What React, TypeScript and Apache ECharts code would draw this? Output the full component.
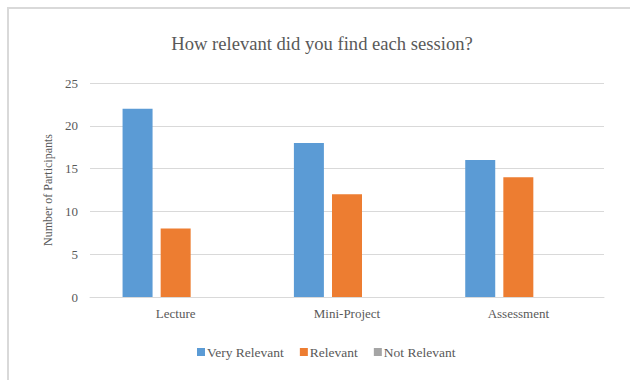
import React, { useEffect, useRef } from "react";
import * as echarts from "echarts";

const categories = ["Lecture", "Mini-Project", "Assessment"];
const seriesNames = ["Very Relevant", "Relevant", "Not Relevant"];
const veryRelevant = [22, 18, 16];
const relevant = [8, 12, 14];
const notRelevant = [0, 0, 0];
const colors = ["#5B9BD5", "#ED7D31", "#A5A5A5"];

const FONT = "Liberation Serif";

export default function App() {
  const ref = useRef<HTMLDivElement>(null);
  useEffect(() => {
    if (!ref.current) return;
    const chart = echarts.init(ref.current, undefined, { renderer: "svg" });
    const values = [veryRelevant, relevant, notRelevant];
    chart.setOption({
      animation: false,
      backgroundColor: "#ffffff",
      textStyle: { fontFamily: FONT },
      title: {
        text: "How relevant did you find each session?",
        left: 317,
        textAlign: "center",
        top: 29,
        textStyle: { fontFamily: FONT, fontSize: 18.6, fontWeight: "normal", color: "#595959" },
      },
      graphic: [
        { type: "line", shape: { x1: 7, y1: 8, x2: 630, y2: 8 }, style: { stroke: "#d9d9d9", lineWidth: 2 } },
        { type: "line", shape: { x1: 8, y1: 7, x2: 8, y2: 380 }, style: { stroke: "#d9d9d9", lineWidth: 2 } },
      ],
      legend: {
        data: seriesNames,
        bottom: 16,
        left: 192,
        itemWidth: 8,
        itemHeight: 8,
        itemGap: 16,
        icon: "rect",
        textStyle: { fontFamily: FONT, fontSize: 13.5, color: "#595959", padding: [0, 0, 0, -3] },
      },
      grid: { left: 90, right: 26, top: 83, bottom: 83 },
      xAxis: {
        type: "category",
        data: categories,
        axisTick: { show: false },
        axisLine: { lineStyle: { color: "#d9d9d9", width: 1 } },
        axisLabel: { fontFamily: FONT, fontSize: 13, color: "#595959", margin: 10 },
      },
      yAxis: {
        type: "value",
        min: 0,
        max: 25,
        interval: 5,
        name: "Number of Participants",
        nameLocation: "middle",
        nameGap: 31,
        nameTextStyle: { fontFamily: FONT, fontSize: 12, color: "#595959" },
        axisLabel: { fontFamily: FONT, fontSize: 13, color: "#595959", margin: 12 },
        splitLine: { lineStyle: { color: "#d9d9d9", width: 1 } },
      },
      series: seriesNames.map((name, i) => ({
        name,
        type: "bar",
        data: values[i],
        barWidth: 30,
        barGap: "27%",
        itemStyle: { color: colors[i] },
      })),
    });
    return () => chart.dispose();
  }, []);
  return (
    <div
      ref={ref}
      style={{ position: "absolute", left: 0, top: 0, width: 630, height: 380 }}
    />
  );
}
